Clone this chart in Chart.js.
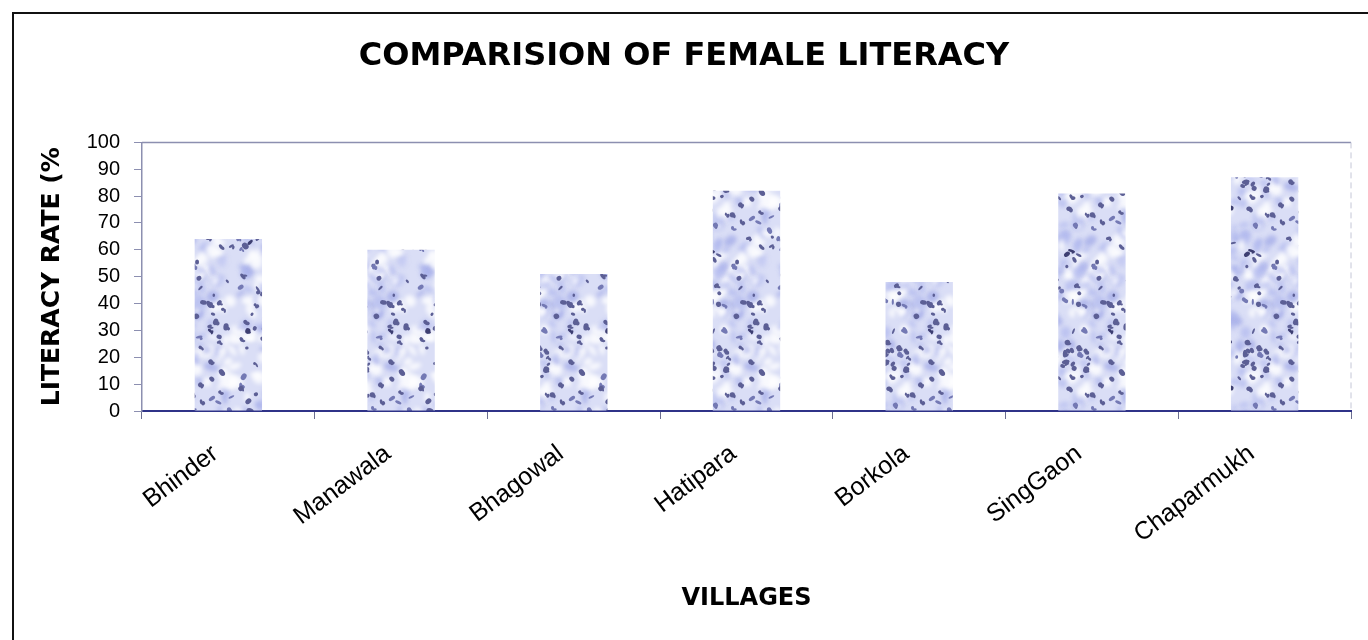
<!DOCTYPE html>
<html>
<head>
<meta charset="utf-8">
<title>Comparision of female literacy</title>
<script src="https://cdn.jsdelivr.net/npm/chart.js@4.4.1/dist/chart.umd.min.js"></script>
<style>
    html, body { margin: 0; padding: 0; background: #fff; }
    #wrap { position: relative; width: 1368px; height: 640px; overflow: hidden; }
    #frame {
        position: absolute; left: 12px; top: 12px; right: -4px; bottom: -4px;
        border-left: 2px solid #111; border-top: 2px solid #111;
        pointer-events: none;
    }
    canvas { position: absolute; left: 0; top: 0; }
</style>
</head>
<body>
<div id="wrap">
    <canvas id="chart" width="1368" height="640"></canvas>
    <div id="frame"></div>
</div>
<script>
// ============================================
// DATA
// ============================================

const villages = ['Bhinder', 'Manawala', 'Bhagowal', 'Hatipara', 'Borkola', 'SingGaon', 'Chaparmukh'];
const literacy = [64, 60, 51, 82, 48, 81, 87];
const yTicks = [0, 10, 20, 30, 40, 50, 60, 70, 80, 90, 100];

const FONT = '"Liberation Sans", Arial, sans-serif';
const BOLD_FONT = '"DejaVu Sans", "Liberation Sans", Arial, sans-serif';

// ============================================
// SPECKLED FILL (Excel-like texture)
// ============================================

function makeTexture() {
    const size = 180;
    const c = document.createElement('canvas');
    c.width = size;
    c.height = size;
    const g = c.getContext('2d');

    // simple LCG so the texture looks the same each run
    let seed = 4242;
    const rnd = () => {
        seed = (seed * 1103515245 + 12345) % 2147483648;
        return seed / 2147483648;
    };

    // draw a blob with wrap-around so the tile repeats seamlessly
    const blob = (x, y, rx, ry, a) => {
        for (const dx of [-size, 0, size]) {
            for (const dy of [-size, 0, size]) {
                g.beginPath();
                g.ellipse(x + dx, y + dy, rx, ry, a, 0, Math.PI * 2);
                g.fill();
            }
        }
    };

    g.fillStyle = '#dadef6';
    g.fillRect(0, 0, size, size);

    // soft mottling
    g.filter = 'blur(2px)';
    for (let i = 0; i < 300; i++) {
        const r = rnd();
        g.fillStyle = r < 0.45 ? 'rgba(255,255,255,0.8)' :
                      r < 0.85 ? 'rgba(170,178,236,0.6)' : 'rgba(135,145,225,0.5)';
        blob(rnd() * size, rnd() * size, 2 + rnd() * 6, 2 + rnd() * 5, rnd() * 3);
    }
    g.filter = 'none';

    // dark specks
    for (let i = 0; i < 170; i++) {
        const r = rnd();
        g.fillStyle = r < 0.7 ? '#5c5f95' : r < 0.9 ? '#7479b4' : '#3e3f72';
        const x = rnd() * size, y = rnd() * size;
        blob(x, y, 1.2 + rnd() * 2.6, 1 + rnd() * 2, rnd() * 3);
        if (rnd() < 0.4) blob(x + 2, y + 1.5, 1 + rnd() * 1.5, 1 + rnd() * 1.2, rnd() * 3);
    }
    return g.createPattern(c, 'repeat');
}

// plot frame: top and right edges of the plot area
const plotFrame = {
    id: 'plotFrame',
    afterDatasetsDraw(chart) {
        const { ctx, chartArea: a } = chart;
        ctx.save();
        ctx.strokeStyle = '#8c8fb0';
        ctx.lineWidth = 1.5;
        ctx.beginPath();
        ctx.moveTo(a.left, a.top);
        ctx.lineTo(a.right, a.top);
        ctx.stroke();
        ctx.strokeStyle = '#c4c6d6';
        ctx.lineWidth = 1;
        ctx.setLineDash([6, 4]);
        ctx.beginPath();
        ctx.moveTo(a.right, a.top);
        ctx.lineTo(a.right, a.bottom);
        ctx.stroke();
        ctx.restore();
    }
};

// ============================================
// CHART
// ============================================

const ctx = document.getElementById('chart');

new Chart(ctx, {
    type: 'bar',
    data: {
        labels: villages,
        datasets: [{
            label: 'Literacy rate (%)',
            data: literacy,
            backgroundColor: makeTexture(),
            borderWidth: 0,
            categoryPercentage: 1,
            barPercentage: 0.39
        }]
    },
    plugins: [plotFrame],
    options: {
        responsive: false,
        animation: false,
        layout: { padding: { left: 17, right: 17, top: 0, bottom: 0 } },
        plugins: {
            legend: { display: false },
            tooltip: { enabled: false },
            title: {
                display: true,
                text: 'COMPARISION OF FEMALE LITERACY',
                color: '#000',
                font: { family: BOLD_FONT, size: 32, weight: 'bold' },
                padding: { top: 37, bottom: 67 }
            }
        },
        scales: {
            x: {
                afterFit: (scale) => { scale.height = 229; },
                grid: {
                    display: true,
                    offset: true,
                    drawOnChartArea: false,
                    drawTicks: true,
                    tickLength: 8,
                    color: '#6b6e90'
                },
                border: { display: true, color: '#2f3388', width: 2 },
                ticks: {
                    color: '#000',
                    font: { family: FONT, size: 25 },
                    minRotation: 37,
                    maxRotation: 37,
                    labelOffset: -13,
                    padding: 20
                },
                title: {
                    display: true,
                    text: 'VILLAGES',
                    color: '#000',
                    font: { family: BOLD_FONT, size: 24, weight: 'bold' },
                    padding: { top: 4, bottom: 27 }
                }
            },
            y: {
                min: 0,
                max: 100,
                afterFit: (scale) => { scale.width = 125; },
                afterBuildTicks: (scale) => {
                    scale.ticks = yTicks.map(v => ({ value: v }));
                },
                grid: {
                    display: true,
                    drawOnChartArea: false,
                    drawTicks: true,
                    tickLength: 8,
                    color: '#8c8fb0'
                },
                border: { display: true, color: '#8c8fb0', width: 1.5 },
                ticks: {
                    color: '#000',
                    font: { family: FONT, size: 20 },
                    autoSkip: false,
                    padding: 14
                },
                title: {
                    display: true,
                    text: 'LITERACY RATE (%',
                    color: '#000',
                    font: { family: BOLD_FONT, size: 25, weight: 'bold' },
                    padding: { top: 20, bottom: 0 }
                }
            }
        }
    }
});
</script>
</body>
</html>
